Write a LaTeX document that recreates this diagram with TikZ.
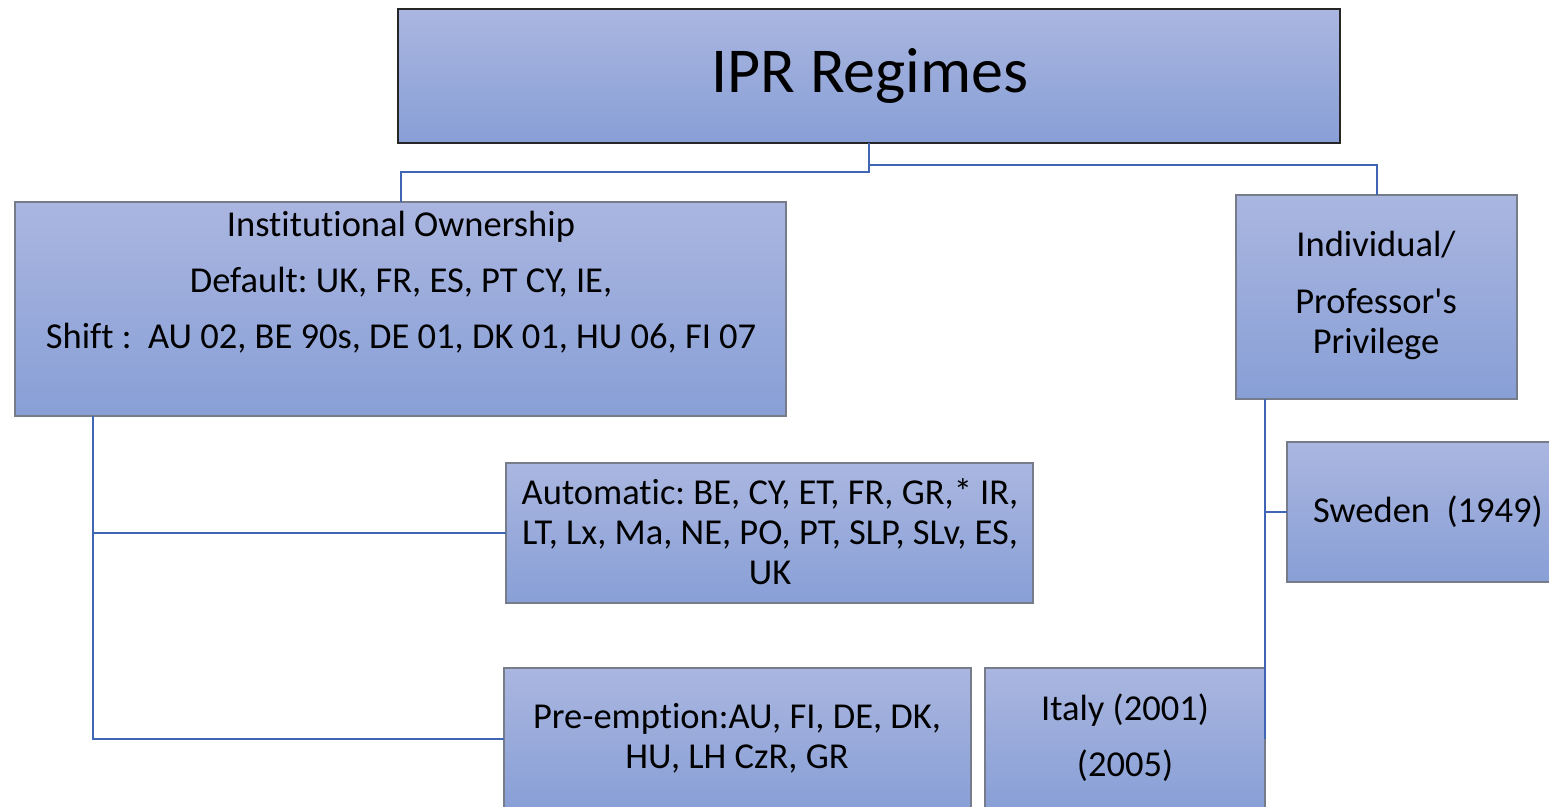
\documentclass[tikz,border=0pt]{standalone}
\usepackage{fontspec}
\setmainfont[Ligatures=CommonOff]{Carlito}
\frenchspacing
\definecolor{boxtop}{RGB}{170,182,224}
\definecolor{boxbot}{RGB}{136,159,214}
\definecolor{boxline}{RGB}{118,124,138}
\definecolor{linkblue}{RGB}{62,102,178}
\tikzset{
  card/.style={draw=boxline, line width=1.3pt, top color=boxtop, bottom color=boxbot,
    anchor=north west, inner sep=0pt, outer sep=0pt},
  headcard/.style={card, draw=black!85, line width=2pt},
  label/.style={align=center, inner sep=0pt, font=\fontsize{36.5}{40}\selectfont},
  link/.style={draw=linkblue, line width=2pt}
}
\begin{document}
\begin{tikzpicture}[x=1pt, y=-1pt]
\useasboundingbox (0,0) rectangle (1549,806);
\clip (0,0) rectangle (1549,806);

% boxes
\node[headcard, minimum width=942pt, minimum height=134pt] (head) at (398,9) {};
\node[card, minimum width=771pt, minimum height=214pt] (inst) at (15,202) {};
\node[card, minimum width=281pt, minimum height=204pt] (indiv) at (1236,195) {};
\node[card, minimum width=281pt, minimum height=140pt] (swe) at (1287,442) {};
\node[card, minimum width=527pt, minimum height=140pt] (auto) at (506,463) {};
\node[card, minimum width=467pt, minimum height=142pt] (pre) at (504,668) {};
\node[card, minimum width=280pt, minimum height=142pt] (italy) at (985,668) {};

% texts
\node[inner sep=0pt, font=\fontsize{64}{76}\selectfont] (headT) at (870,76) {IPR Regimes};
\node[label] (instT) at (401,282) {Institutional Ownership\\[16pt]Default: UK, FR, ES, PT CY, IE,\\[16pt]Shift :\ \ AU 02, BE 90s, DE 01, DK 01, HU 06, FI 07};
\node[label] (indivT) at (1376,295) {Individual/\\[17pt]Professor\textquotesingle s\\Privilege};
\node[label] (sweT) at (1428,512) {Sweden\ \ (1949)};
\node[label] (autoT) at (770,532) {Automatic: BE, CY, ET, FR, GR,* IR,\\LT, Lx, Ma, NE, PO, PT, SLP, SLv, ES,\\UK};
\node[label] (preT) at (737,738) {Pre-emption:AU, FI, DE, DK,\\HU, LH CzR, GR};
\node[label] (italyT) at (1125,738) {Italy (2001)\\[16pt](2005)};

% connectors
\coordinate (instfoot) at (93,416);
\coordinate (indivfoot) at (1265,399);
\draw[link] (head.south) -- ++(0,29) -| (inst.north);
\draw[link] (head.south) -- ++(0,22) -| (indiv.north);
\draw[link] (instfoot) |- (auto.west);
\draw[link] (instfoot) |- (pre.west);
\draw[link] (indivfoot) |- (swe.west);
\draw[link] (indivfoot) |- (italy.east);
\end{tikzpicture}
\end{document}
